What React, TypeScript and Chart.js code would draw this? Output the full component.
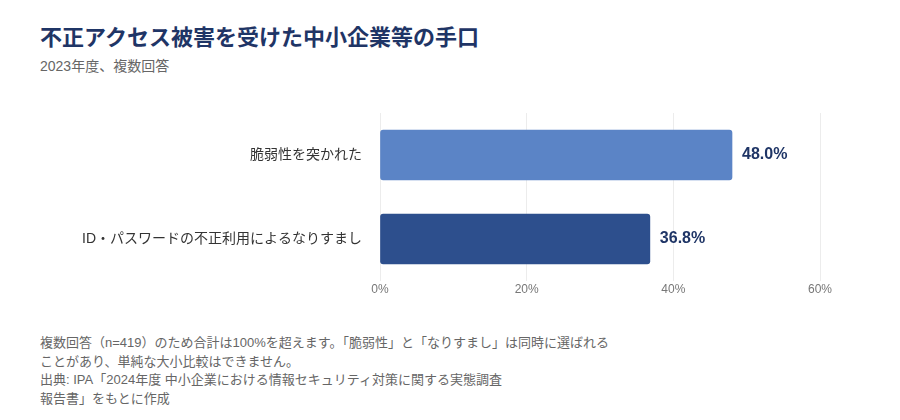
import { useEffect, useRef } from 'react';
import { Chart, registerables, Plugin } from 'chart.js';

Chart.register(...registerables);

const categories = ['脆弱性を突かれた', 'ID・パスワードの不正利用によるなりすまし'];
const values = [48.0, 36.8];
const barColors = ['#5b84c6', '#2d4f8d'];
const xTicks = [0, 20, 40, 60];

const titleText = '不正アクセス被害を受けた中小企業等の手口';
const subtitleText = '2023年度、複数回答';
const noteLines = [
  '複数回答（n=419）のため合計は100%を超えます。「脆弱性」と「なりすまし」は同時に選ばれる',
  'ことがあり、単純な大小比較はできません。',
  '出典: IPA「2024年度 中小企業における情報セキュリティ対策に関する実態調査',
  '報告書」をもとに作成',
];

const FONT = '"Liberation Sans", "Noto Sans CJK JP", sans-serif';

// draws "48.0%" just past the end of each bar
const valueLabels: Plugin<'bar'> = {
  id: 'valueLabels',
  afterDatasetsDraw(chart) {
    const { ctx } = chart;
    const meta = chart.getDatasetMeta(0);
    ctx.save();
    ctx.font = `bold 16px ${FONT}`;
    ctx.fillStyle = '#1f3566';
    ctx.textAlign = 'left';
    ctx.textBaseline = 'middle';
    meta.data.forEach((bar, i) => {
      const v = values[i];
      ctx.fillText(`${v.toFixed(1)}%`, bar.x + 10, bar.y);
    });
    ctx.restore();
  },
};

function BarChart() {
  const canvasRef = useRef<HTMLCanvasElement>(null);
  const chartRef = useRef<Chart | null>(null);

  useEffect(() => {
    const ctx = canvasRef.current?.getContext('2d');
    if (!ctx) return;
    if (chartRef.current) chartRef.current.destroy();

    chartRef.current = new Chart(ctx, {
      type: 'bar',
      data: {
        labels: categories,
        datasets: [
          {
            data: values,
            backgroundColor: barColors,
            borderRadius: 3,
            borderSkipped: false,
            barThickness: 50,
          },
        ],
      },
      options: {
        indexAxis: 'y',
        animation: false,
        responsive: true,
        maintainAspectRatio: false,
        layout: { padding: { top: 13, right: 72, bottom: 0, left: 0 } },
        plugins: {
          legend: { display: false },
          tooltip: { enabled: false },
        },
        scales: {
          x: {
            min: 0,
            max: 60,
            afterBuildTicks: (scale) => {
              scale.ticks = xTicks.map((v) => ({ value: v }));
            },
            afterFit: (scale) => {
              scale.height = 29;
            },
            grid: { color: '#ececec', drawTicks: false },
            border: { display: false },
            ticks: {
              padding: 1,
              color: '#777',
              font: { family: FONT, size: 12 },
              callback: (v) => `${v}%`,
            },
          },
          y: {
            afterFit: (scale) => {
              scale.width = 372;
              scale.paddingTop = 0;
              scale.paddingBottom = 0;
            },
            grid: { display: false },
            border: { display: false },
            ticks: {
              padding: 10,
              color: '#333',
              font: { family: FONT, size: 14 },
            },
          },
        },
      },
      plugins: [valueLabels],
    });

    return () => {
      chartRef.current?.destroy();
      chartRef.current = null;
    };
  }, []);

  return <canvas ref={canvasRef} />;
}

export default function App() {
  return (
    <div style={{ position: 'relative', width: 884, height: 404, fontFamily: FONT }}>
      <div
        style={{
          position: 'absolute',
          left: 32,
          top: 17,
          fontSize: 22,
          fontWeight: 'bold',
          color: '#1f3566',
          lineHeight: '26px',
          whiteSpace: 'nowrap',
        }}
      >
        {titleText}
      </div>
      <div
        style={{
          position: 'absolute',
          left: 32,
          top: 49,
          fontSize: 14,
          color: '#666',
          lineHeight: '18px',
        }}
      >
        {subtitleText}
      </div>
      <div style={{ position: 'absolute', left: 0, top: 92, width: 884, height: 210 }}>
        <BarChart />
      </div>
      <div
        style={{
          position: 'absolute',
          left: 32,
          top: 326,
          fontSize: 13,
          color: '#666',
          lineHeight: '18.5px',
          whiteSpace: 'nowrap',
        }}
      >
        {noteLines.map((line, i) => (
          <div key={i}>{line}</div>
        ))}
      </div>
    </div>
  );
}
